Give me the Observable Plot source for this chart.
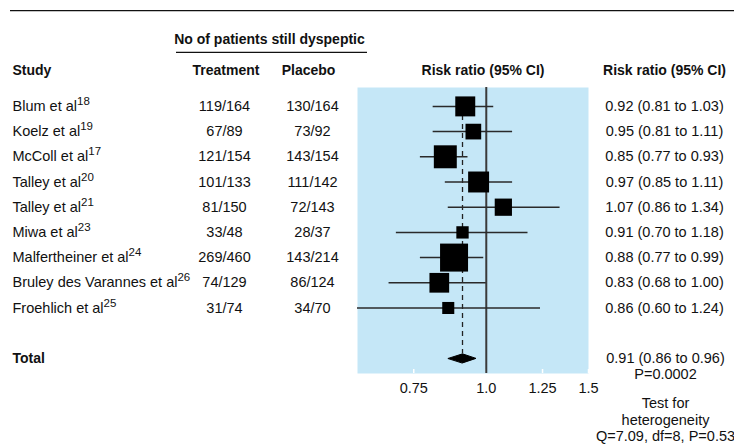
<!DOCTYPE html>
<html>
<head>
<meta charset="utf-8">
<script src="https://cdn.jsdelivr.net/npm/d3@7"></script>
<script src="https://cdn.jsdelivr.net/npm/@observablehq/plot@0.6"></script>
<style>
  html, body { margin: 0; padding: 0; background: white; }
</style>
</head>
<body>
<div id="chart"></div>
<script>
// ---- data ----
const studyNames = ["Blum et al", "Koelz et al", "McColl et al", "Talley et al", "Talley et al",
  "Miwa et al", "Malfertheiner et al", "Bruley des Varannes et al", "Froehlich et al"];
const studyRefs = [18, 19, 17, 20, 21, 23, 24, 26, 25];
const treatment = ["119/164", "67/89", "121/154", "101/133", "81/150", "33/48", "269/460", "74/129", "31/74"];
const placebo = ["130/164", "73/92", "143/154", "111/142", "72/143", "28/37", "143/214", "86/124", "34/70"];
const riskRatio = [0.92, 0.95, 0.85, 0.97, 1.07, 0.91, 0.88, 0.83, 0.86];
const ciLow = [0.81, 0.81, 0.77, 0.85, 0.86, 0.70, 0.77, 0.68, 0.60];
const ciHigh = [1.03, 1.11, 0.93, 1.11, 1.34, 1.18, 0.99, 1.00, 1.24];
const weight = [11.8, 7.3, 15.6, 13.0, 8.8, 4.5, 23.2, 11.5, 4.3]; // relative box area
const totalRR = 0.91, totalLow = 0.86, totalHigh = 0.96;
const totalP = "P=0.0002";
const heterogeneity = ["Test for", "heterogeneity", "Q=7.09, df=8, P=0.53"];
const xTicks = [0.75, 1.0, 1.25, 1.5];
const xTickLabels = ["0.75", "1.0", "1.25", "1.5"];

// ---- derived table ----
const rows = studyNames.map((name, i) => ({
  row: i, name, ref: studyRefs[i], treatment: treatment[i], placebo: placebo[i],
  rr: riskRatio[i], lo: ciLow[i], hi: ciHigh[i], w: weight[i],
  label: `${riskRatio[i].toFixed(2)} (${ciLow[i].toFixed(2)} to ${ciHigh[i].toFixed(2)})`
}));
const totalRow = studyNames.length + 1;
const total = {row: totalRow, rr: totalRR, lo: totalLow, hi: totalHigh,
  label: `${totalRR.toFixed(2)} (${totalLow.toFixed(2)} to ${totalHigh.toFixed(2)})`};
const dh = 0.18; // diamond half height in rows
const diamond = [
  {x: total.lo, y: total.row}, {x: total.rr, y: total.row - dh},
  {x: total.hi, y: total.row}, {x: total.rr, y: total.row + dh}
];

const FONT = "'Liberation Sans', Arial, sans-serif";
const W = 734, H = 444;
const mL = 357, mR = 146, mT = 87, mB = 71;
const bold = {fontWeight: "bold", fontSize: 14};
const mid = {textAnchor: "middle"};
const hdr = {frameAnchor: "top-left", lineAnchor: "middle", ...bold};

const plot = Plot.plot({
  width: W, height: H,
  marginLeft: mL, marginRight: mR, marginTop: mT, marginBottom: mB,
  style: {fontFamily: FONT, fontSize: "14.5px", color: "#111", background: "white", overflow: "visible"},
  x: {type: "log", domain: [0.6, 1.5], axis: null},
  y: {domain: [-0.75, 10.6], reverse: true, axis: null},
  r: {type: "sqrt", domain: [0, d3.max(weight)], range: [0, 28 / Math.sqrt(Math.PI)]},
  marks: [
    Plot.frame({fill: "#c5e7f7", stroke: null}),
    Plot.axisX({ticks: xTicks, tickSize: -4, stroke: "white", strokeWidth: 1.5, text: null, tickFormat: null}),
    Plot.axisX({ticks: xTicks, tickSize: 0, tickPadding: 9, tickFormat: (d) => xTickLabels[xTicks.indexOf(d)], fontSize: 14.5, fill: "#111"}),
    Plot.ruleX([total], {x: "rr", y1: rows[0].row, y2: total.row - dh, stroke: "#222", strokeWidth: 1.3, strokeDasharray: "5,4"}),
    Plot.ruleX([1], {stroke: "#3a3a3a", strokeWidth: 2}),
    Plot.ruleY(rows, {y: "row", x1: "lo", x2: "hi", stroke: "#2a2a2a", strokeWidth: 1.5}),
    Plot.dot(rows, {x: "rr", y: "row", r: "w", symbol: "square", fill: "black", stroke: null}),
    Plot.line(diamond, {x: "x", y: "y", fill: "black", stroke: "black", strokeWidth: 1, curve: "linear-closed"}),
    // column texts
    Plot.text(rows, {y: "row", text: "name", frameAnchor: "left", dx: 12 - mL, textAnchor: "start"}),
    Plot.text(rows, {y: "row", text: "treatment", frameAnchor: "left", dx: 224 - mL, ...mid}),
    Plot.text(rows, {y: "row", text: "placebo", frameAnchor: "left", dx: 312 - mL, ...mid}),
    Plot.text(rows, {y: "row", text: "label", frameAnchor: "left", dx: 664 - mL, ...mid}),
    Plot.text([total], {y: "row", text: () => "Total", frameAnchor: "left", dx: 12 - mL, textAnchor: "start", ...bold}),
    Plot.text([total], {y: "row", text: "label", frameAnchor: "left", dx: 665 - mL, ...mid}),
    Plot.text([total], {y: "row", text: () => totalP, frameAnchor: "left", dx: 665 - mL, dy: 16, ...mid}),
    Plot.text([total], {y: "row", text: () => heterogeneity.join("\n"), frameAnchor: "left", dx: 665 - mL, dy: 61, lineHeight: 1.13, ...mid}),
    // headers
    Plot.text(["No of patients still dyspeptic"], {...hdr, dx: 269 - mL, dy: 39 - mT, ...mid}),
    Plot.text(["Study"], {...hdr, dx: 12 - mL, dy: 70 - mT, textAnchor: "start"}),
    Plot.text(["Treatment"], {...hdr, dx: 225.5 - mL, dy: 70 - mT, ...mid}),
    Plot.text(["Placebo"], {...hdr, dx: 308 - mL, dy: 70 - mT, ...mid}),
    Plot.text(["Risk ratio (95% CI)"], {...hdr, dx: 482.5 - mL, dy: 70 - mT, ...mid}),
    Plot.text(["Risk ratio (95% CI)"], {...hdr, dx: 664 - mL, dy: 70 - mT, ...mid})
  ]
});

// superscript reference numbers on study names
const names = new Set(studyNames);
let k = 0;
d3.select(plot).selectAll("text").each(function () {
  if (this.childNodes.length === 1 && this.firstChild.nodeType === 3 && names.has(this.textContent) && k < studyRefs.length) {
    const sup = document.createElementNS("http://www.w3.org/2000/svg", "tspan");
    sup.setAttribute("dy", "-6");
    sup.setAttribute("font-size", "11.5");
    sup.textContent = studyRefs[k++];
    this.appendChild(sup);
  }
});

// decorative rules of the table
const svg = d3.select(plot);
svg.append("line").attr("x1", 10).attr("x2", W).attr("y1", 10.7).attr("y2", 10.7)
  .attr("stroke", "#111").attr("stroke-width", 1.3);
svg.append("line").attr("x1", 176).attr("x2", 367).attr("y1", 52.3).attr("y2", 52.3)
  .attr("stroke", "#111").attr("stroke-width", 1.3);

document.getElementById("chart").appendChild(plot);
</script>
</body>
</html>
